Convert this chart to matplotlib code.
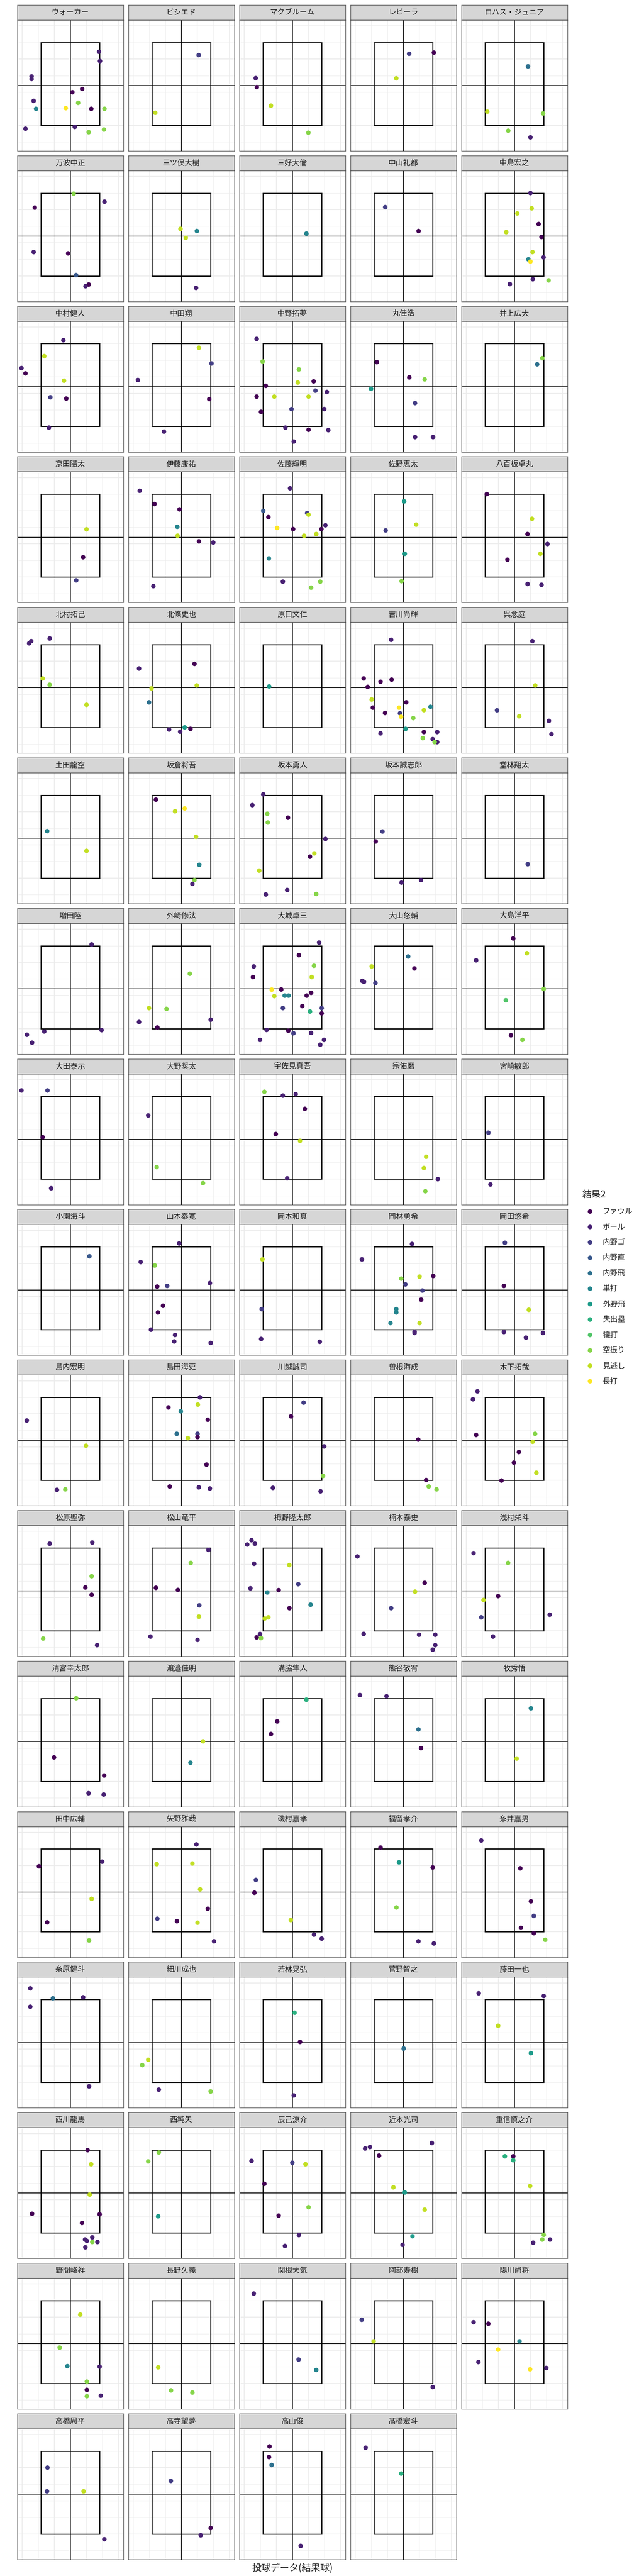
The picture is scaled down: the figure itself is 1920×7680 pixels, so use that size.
import numpy as np
import matplotlib
matplotlib.use("Agg")
from matplotlib import pyplot as plt
from matplotlib.patches import Rectangle

plt.rcParams['font.family'] = ['Noto Sans CJK JP', 'DejaVu Sans']

# result categories (legend order)
results = ['ファウル', 'ボール', '内野ゴ', '内野直', '内野飛', '単打',
           '外野飛', '失出塁', '犠打', '空振り', '見逃し', '長打']

batters = [
    'ウォーカー', 'ビシエド', 'マクブルーム', 'レビーラ', 'ロハス・ジュニア',
    '万波中正', '三ツ俣大樹', '三好大倫', '中山礼都', '中島宏之',
    '中村健人', '中田翔', '中野拓夢', '丸佳浩', '井上広大',
    '京田陽太', '伊藤康祐', '佐藤輝明', '佐野恵太', '八百板卓丸',
    '北村拓己', '北條史也', '原口文仁', '吉川尚輝', '呉念庭',
    '土田龍空', '坂倉将吾', '坂本勇人', '坂本誠志郎', '堂林翔太',
    '増田陸', '外崎修汰', '大城卓三', '大山悠輔', '大島洋平',
    '大田泰示', '大野奨太', '宇佐見真吾', '宗佑磨', '宮崎敏郎',
    '小園海斗', '山本泰寛', '岡本和真', '岡林勇希', '岡田悠希',
    '島内宏明', '島田海吏', '川越誠司', '曽根海成', '木下拓哉',
    '松原聖弥', '松山竜平', '梅野隆太郎', '楠本泰史', '浅村栄斗',
    '清宮幸太郎', '渡邉佳明', '溝脇隼人', '熊谷敬宥', '牧秀悟',
    '田中広輔', '矢野雅哉', '磯村嘉孝', '福留孝介', '糸井嘉男',
    '糸原健斗', '細川成也', '若林晃弘', '菅野智之', '藤田一也',
    '西川龍馬', '西純矢', '辰己涼介', '近本光司', '重信慎之介',
    '野間峻祥', '長野久義', '関根大気', '阿部寿樹', '陽川尚将',
    '高橋周平', '高寺望夢', '高山俊', '髙橋宏斗',
]

# horizontal position of each pitch, one list per batter
pitch_x = [
    [1.79, 1.85, -2.41, -2.41, 0.74, 0.13, -2.28, -2.13, -0.28, 0.49, 1.31, 2.13, -2.79, 0.28, 1.15, 2.10],
    [1.08, -1.62],
    [-2.28, -2.21, -1.33, 1.00],
    [0.36, 1.90, -0.44],
    [0.85, -1.69, 1.79, -0.38, 1.00],
    [0.21, 2.13, -2.21, -2.28, -0.13, 0.36, 1.15, 0.95],
    [-0.05, 0.97, 0.28, 0.92],
    [0.87],
    [-1.13, 0.95],
    [1.00, 1.08, 0.18, 1.51, -0.51, 1.69, 1.13, 1.82, 0.87, 1.00, 1.15, 2.13, -0.28],
    [-0.43, -1.62, -3.04, -2.79, -0.39, -1.24, -0.25, -1.33],
    [1.10, 1.88, -2.70, 1.74, -1.08],
    [-2.22, -1.85, 0.41, 1.33, 0.34, -1.65, 1.44, 2.15, -2.22, -1.12, 1.01, -0.05, 1.99, -1.95, -0.43, 1.01, 2.24, 0.09],
    [-1.65, 0.37, 1.33, -2.01, 0.73, 0.73, 1.85],
    [1.74, 1.42],
    [1.01, 0.80, 0.37],
    [-2.59, -1.67, -0.11, -0.25, -0.23, 1.10, 1.99, -1.74],
    [-0.14, -1.81, -1.49, 0.92, 1.01, 2.06, -0.94, 0.05, 1.81, 1.49, 0.73, -1.46, -0.59, 1.74, 1.17],
    [0.05, 0.80, -1.10, 0.09, -0.11],
    [-1.72, 1.10, 0.82, 2.06, 1.62, -0.43, 0.82, 1.69],
    [-2.56, -2.43, -1.28, -1.72, -1.28, 1.01],
    [-2.63, 0.82, 0.96, -1.85, -2.01, -0.76, -0.07, 0.21, 0.57],
    [-1.46],
    [-0.76, -2.47, -1.42, -0.73, -2.22, -1.97, 0.18, -1.90, -0.27, 1.28, 1.69, -1.14, -0.21, -0.14, 0.62, 0.14, -1.42, 1.28, 2.11, 1.21, 1.83, 2.11, 1.95],
    [1.12, 1.30, -1.08, 0.30, 2.15, 2.31],
    [-1.44, 1.01],
    [-1.58, -0.39, 0.21, 0.92, 1.12, 0.82, 0.69],
    [-1.81, -2.49, -1.56, -1.53, -0.27, 2.06, 1.37, 1.10, -2.06, -0.32, -1.65, 1.49],
    [-1.30, -1.72, -0.11, 1.10],
    [0.82],
    [1.33, 1.95, -1.62, -2.70, -2.38],
    [0.53, -2.01, -0.92, 1.83, -2.63, -1.49],
    [1.67, 0.41, -2.40, 1.35, -2.45, 1.21, -1.28, -0.69, -1.12, -0.48, -0.23, 1.17, 0.89, -0.59, 0.62, 1.83, 1.10, 1.83, -1.60, -0.25, 0.07, 1.17, -2.01, 1.97, 1.74],
    [0.30, -1.97, 0.69, -2.56, -2.45, -1.74],
    [-0.07, 0.78, -2.38, 1.83, -0.53, -0.21, 0.50],
    [-3.04, -1.42, -1.72, -1.19],
    [-2.06, -1.53, 1.35],
    [-1.74, -0.59, 0.21, 0.78, -1.03, 0.48, -0.32],
    [1.42, 1.28, 2.15, 1.37],
    [-1.62, -1.49],
    [1.19],
    [-0.13, -2.53, -1.65, 1.78, -1.50, -0.88, -1.14, -1.45, -1.89, -0.39, -0.44, 1.83],
    [-1.86, -1.91, -1.94, 1.71],
    [0.54, -2.58, 1.86, 1.01, -0.13, 0.13, 1.19, 1.11, -0.44, -0.44, -0.80, 1.01, 0.70, 0.70],
    [-0.59, -0.65, 0.90, -0.65, 0.72, 1.78],
    [-2.71, 0.98, -0.83, -0.31],
    [1.16, -0.80, 1.03, -0.03, 1.65, -0.28, 1.01, 1.01, 0.41, 1.57, -0.72, 1.09, 1.78],
    [0.70, -0.08, 1.99, 1.91, -1.21, 1.76],
    [0.93, 1.42, 1.58, 2.07],
    [-2.30, -2.58, -2.38, 1.29, 1.14, 0.28, -0.03, 1.37, -0.80],
    [-1.28, 1.37, 1.33, 0.94, 1.33, -1.69, 1.67],
    [1.69, 0.59, -1.58, -0.21, 1.12, 1.10, -1.92, 1.01],
    [-2.54, -2.81, -2.33, -2.38, -0.18, 0.37, -2.61, -0.85, -1.56, -0.18, 1.14, -1.49, -1.72, -2.01, -2.22, -1.95],
    [-2.86, 1.33, 0.73, -0.76, -2.47, 0.98, 1.99, 1.99, 1.83],
    [-2.54, -0.39, -1.01, -1.92, -2.06, 2.20, -1.33],
    [0.37, -1.01, 2.11, 1.14, 2.08],
    [1.35, 0.57],
    [0.87, -0.94, -1.33],
    [-2.70, -1.05, 0.94, 1.10],
    [1.03, 0.14],
    [-1.95, 1.99, 1.33, -1.44, 1.17],
    [0.94, -1.53, 0.69, 1.17, 1.65, -1.49, -0.27, 1.01, 2.04],
    [-2.27, -2.36, -0.09, 1.35, 1.83],
    [-1.42, -0.27, 1.83, -0.43, 0.94, 1.90],
    [-2.06, 0.37, 1.03, 1.21, 0.41, 1.21, 1.92],
    [-2.49, -1.08, 0.80, -2.49, 1.17],
    [-2.06, -2.43, -1.40, 1.83],
    [0.14, 0.48, 0.09],
    [0.00],
    [-2.22, 1.83, -1.01, 1.03],
    [1.08, 1.30, 1.21, -2.38, 1.83, 0.73, 1.37, 0.92, 1.03, 1.37, 1.69, 0.94],
    [-1.40, -2.06, -1.44],
    [-2.54, 0.00, 0.82, -1.74, 1.01, -0.85, 0.41, -0.46],
    [-2.38, -2.08, 1.78, -1.51, -0.62, 0.09, 1.33, 0.57, -0.05],
    [-0.59, -0.07, -0.07, 0.98, 1.83, 1.74, 2.22, 1.17],
    [0.62, -0.66, -0.18, 1.83, 1.03, 1.03, 1.03, 1.90],
    [-1.44, -0.64, 0.69],
    [-2.40, 0.39, 1.49],
    [-2.59, -1.85, 1.83],
    [-2.54, -1.62, 0.32, -1.01, -2.24, 0.98, 1.99],
    [-1.42, -1.45, 0.83, 2.12],
    [-0.65, 1.83, 1.21],
    [-1.42, -1.45, -1.29, 0.52],
    [-2.35, -0.13],
]

# height of each pitch, one list per batter
pitch_y = [
    [5.44, 4.88, 3.95, 3.80, 3.20, 3.00, 2.48, 2.00, 2.04, 2.36, 2.00, 2.00, 0.80, 0.91, 0.59, 0.75],
    [5.24, 1.76],
    [3.85, 3.31, 2.19, 0.56],
    [5.32, 5.39, 3.84],
    [4.56, 1.83, 1.72, 0.68, 0.28],
    [5.96, 5.48, 5.12, 2.44, 2.36, 1.05, 0.48, 0.38],
    [3.84, 3.71, 3.30, 0.28],
    [3.56],
    [5.15, 3.71],
    [6.00, 5.08, 4.77, 4.13, 3.64, 3.35, 2.44, 2.12, 2.00, 1.87, 0.80, 0.73, 0.51],
    [6.20, 5.24, 4.52, 4.20, 3.76, 2.76, 2.68, 0.93],
    [5.75, 4.80, 3.80, 2.65, 0.69],
    [6.28, 4.92, 4.44, 3.72, 3.65, 3.45, 3.16, 3.08, 2.80, 2.80, 2.80, 2.05, 2.05, 1.88, 0.93, 0.80, 0.78, 0.09],
    [4.88, 3.96, 3.84, 3.27, 2.41, 0.36, 0.36],
    [5.12, 4.75],
    [3.88, 2.19, 0.80],
    [6.20, 5.40, 5.08, 4.03, 3.49, 3.15, 3.08, 0.45],
    [6.35, 4.99, 4.61, 4.86, 4.76, 4.12, 3.96, 3.89, 3.89, 3.59, 3.49, 2.12, 0.72, 0.72, 0.36],
    [5.56, 4.16, 3.81, 2.40, 0.75],
    [6.00, 4.51, 3.59, 2.99, 2.40, 2.04, 0.58, 0.53],
    [6.08, 6.21, 6.37, 3.96, 3.58, 2.37],
    [4.56, 4.84, 3.54, 3.36, 2.52, 0.88, 0.75, 1.01, 0.92],
    [3.49],
    [6.29, 3.96, 3.76, 3.89, 3.45, 2.69, 2.52, 2.20, 2.20, 2.05, 2.25, 1.88, 1.86, 1.65, 1.57, 0.92, 0.65, 0.73, 0.73, 0.36, 0.30, 0.12, 0.12],
    [6.21, 3.54, 2.04, 1.68, 1.40, 0.60],
    [3.83, 2.64],
    [5.73, 5.03, 5.20, 3.49, 1.80, 0.88, 0.65],
    [6.05, 5.40, 4.88, 4.35, 4.64, 3.36, 2.49, 2.29, 1.45, 0.28, 0.01, 0.04],
    [3.81, 3.21, 0.73, 0.88],
    [1.85],
    [6.08, 0.91, 0.83, 0.63, 0.15],
    [4.31, 2.24, 2.19, 1.54, 1.40, 1.07],
    [6.19, 5.43, 4.75, 4.79, 4.11, 4.11, 3.35, 3.36, 2.96, 2.99, 2.99, 3.16, 2.99, 2.24, 2.36, 2.24, 2.03, 1.92, 0.92, 0.87, 0.72, 0.74, 0.32, 0.32, 0.03],
    [5.35, 4.75, 4.63, 3.88, 3.82, 3.75],
    [6.44, 5.55, 5.12, 3.39, 2.71, 0.60, 0.32],
    [6.35, 6.35, 3.53, 0.45],
    [4.84, 1.73, 0.76],
    [6.27, 6.04, 6.13, 5.24, 3.72, 3.31, 1.05],
    [2.35, 1.67, 1.00, 0.27],
    [3.80, 0.68],
    [5.44],
    [6.20, 5.08, 4.87, 3.81, 3.60, 3.64, 2.44, 2.04, 1.00, 0.68, 0.29, 0.20],
    [5.24, 2.24, 0.44, 0.27],
    [6.17, 5.24, 4.24, 4.20, 4.08, 3.73, 3.36, 2.81, 2.24, 2.04, 1.40, 1.40, 0.88, 0.80],
    [6.24, 3.64, 2.20, 0.86, 0.52, 0.80],
    [4.60, 3.08, 0.42, 0.45],
    [6.00, 5.39, 5.56, 5.16, 4.65, 3.80, 3.80, 3.60, 3.54, 1.94, 0.62, 0.57, 0.50],
    [5.68, 4.85, 3.04, 1.26, 0.54, 0.33],
    [3.45, 1.01, 0.62, 0.45],
    [6.36, 5.88, 3.73, 3.80, 3.32, 2.70, 2.06, 1.45, 0.98],
    [6.25, 6.32, 4.29, 3.61, 3.17, 0.53, 0.13],
    [5.88, 5.09, 3.59, 3.46, 2.53, 1.85, 0.65, 0.45],
    [6.46, 6.20, 6.25, 5.04, 4.96, 3.81, 3.56, 3.45, 3.31, 2.36, 2.57, 1.81, 1.74, 0.80, 0.60, 0.56],
    [5.48, 3.89, 3.36, 2.36, 0.81, 0.76, 0.76, 0.13, -0.14],
    [5.68, 5.09, 3.09, 2.85, 1.81, 1.97, 0.65],
    [6.01, 2.44, 1.35, 0.28, 0.20],
    [3.41, 2.12],
    [5.92, 4.61, 3.85],
    [6.20, 6.13, 4.13, 3.00],
    [5.40, 2.37],
    [4.95, 5.23, 2.99, 1.57, 0.48],
    [6.27, 5.08, 5.12, 3.56, 2.39, 1.79, 1.64, 1.55, 0.43],
    [4.13, 3.36, 1.71, 0.83, 0.59],
    [6.08, 5.19, 4.88, 2.47, 0.43, 0.30],
    [6.51, 4.83, 2.84, 1.96, 1.24, 0.92, 0.52],
    [6.67, 6.07, 6.13, 5.56, 0.76],
    [2.36, 2.04, 0.56, 0.45],
    [5.20, 3.44, 0.21],
    [3.04],
    [6.37, 6.21, 4.41, 2.76],
    [5.99, 5.14, 3.31, 2.15, 2.12, 1.60, 0.73, 0.60, 0.52, 0.45, 0.45, 0.13],
    [5.85, 5.31, 2.00],
    [5.34, 5.23, 5.14, 3.96, 2.55, 2.04, 0.87, 0.21],
    [6.09, 6.18, 6.42, 5.66, 3.75, 3.44, 2.40, 0.80, 0.28],
    [5.62, 5.62, 5.38, 3.83, 0.88, 0.60, 0.60, 0.41],
    [5.15, 3.16, 2.04, 2.01, 1.11, 0.61, 0.23, 0.26],
    [1.97, 0.58, 0.45],
    [6.42, 2.44, 1.81],
    [4.84, 3.54, 0.78],
    [4.69, 4.60, 3.54, 3.04, 2.29, 1.85, 1.93],
    [5.00, 3.57, 3.57, 0.68],
    [4.20, 1.36, 0.92],
    [6.28, 5.64, 5.16, 0.28],
    [6.20, 4.64],
]

# result of each pitch (index into results), one list per batter
pitch_res = [
    [1, 1, 1, 1, 0, 0, 1, 5, 11, 9, 0, 9, 1, 1, 9, 9],
    [2, 10],
    [1, 0, 10, 9],
    [2, 0, 10],
    [4, 10, 9, 9, 1],
    [9, 1, 0, 1, 0, 3, 0, 1],
    [10, 5, 10, 1],
    [5],
    [2, 0],
    [1, 10, 10, 0, 10, 0, 10, 1, 5, 11, 1, 9, 1],
    [1, 10, 1, 0, 10, 2, 0, 1],
    [10, 2, 1, 0, 1],
    [1, 9, 9, 0, 10, 0, 2, 1, 0, 10, 10, 2, 1, 0, 1, 0, 1, 1],
    [0, 0, 9, 6, 2, 1, 1],
    [9, 4],
    [10, 0, 2],
    [1, 0, 0, 5, 10, 0, 1, 1],
    [1, 3, 0, 2, 10, 1, 11, 0, 0, 10, 10, 5, 1, 9, 9],
    [6, 10, 2, 6, 9],
    [0, 10, 0, 1, 10, 0, 1, 1],
    [1, 1, 1, 10, 9, 10],
    [1, 0, 10, 10, 4, 1, 1, 6, 0],
    [6],
    [1, 0, 0, 0, 0, 10, 0, 0, 11, 10, 5, 0, 2, 11, 9, 6, 1, 0, 1, 9, 1, 1, 9],
    [1, 10, 2, 10, 1, 1],
    [5, 10],
    [0, 10, 11, 10, 5, 9, 1],
    [1, 1, 9, 9, 0, 1, 10, 0, 10, 1, 1, 9],
    [2, 0, 1, 1],
    [2],
    [1, 1, 1, 1, 1],
    [9, 10, 9, 1, 1, 0],
    [1, 0, 1, 9, 0, 10, 11, 0, 10, 5, 5, 0, 0, 2, 0, 2, 7, 0, 1, 0, 2, 1, 1, 1, 1],
    [4, 10, 0, 1, 1, 2],
    [0, 10, 1, 9, 8, 0, 9],
    [1, 2, 0, 1],
    [1, 9, 9],
    [9, 1, 1, 0, 0, 10, 1],
    [10, 10, 1, 9],
    [2, 1],
    [3],
    [1, 1, 9, 1, 0, 2, 0, 0, 1, 1, 1, 1],
    [10, 2, 1, 1],
    [1, 1, 0, 10, 9, 2, 2, 0, 5, 5, 5, 10, 1, 1],
    [2, 0, 10, 1, 1, 1],
    [1, 10, 1, 9],
    [1, 0, 10, 5, 0, 4, 2, 0, 10, 0, 0, 1, 1],
    [2, 0, 1, 9, 1, 1],
    [0, 0, 9, 9],
    [1, 1, 0, 9, 10, 0, 0, 10, 0],
    [1, 1, 9, 0, 0, 9, 1],
    [1, 9, 0, 0, 2, 10, 1, 1],
    [1, 1, 1, 1, 10, 2, 1, 0, 5, 0, 5, 10, 10, 1, 0, 9],
    [1, 0, 10, 2, 1, 1, 1, 1, 1],
    [1, 9, 0, 10, 2, 1, 1],
    [9, 0, 0, 1, 1],
    [10, 5],
    [7, 0, 0],
    [1, 1, 4, 0],
    [5, 10],
    [0, 1, 10, 0, 9],
    [1, 10, 10, 10, 0, 2, 0, 10, 1],
    [2, 0, 10, 1, 1],
    [0, 6, 0, 9, 1, 1],
    [1, 0, 0, 2, 0, 0, 9],
    [1, 4, 1, 1, 1],
    [10, 9, 1, 9],
    [7, 0, 1],
    [4],
    [1, 1, 10, 6],
    [0, 10, 10, 0, 0, 0, 1, 1, 1, 9, 1, 1],
    [9, 9, 6],
    [1, 2, 10, 0, 9, 0, 1, 1],
    [1, 1, 1, 0, 10, 6, 10, 6, 1],
    [7, 0, 7, 10, 9, 9, 1, 1],
    [10, 9, 5, 1, 9, 0, 9, 1],
    [10, 9, 9],
    [1, 2, 5],
    [2, 10, 1],
    [1, 0, 5, 11, 1, 11, 1],
    [2, 2, 10, 1],
    [2, 0, 1],
    [0, 0, 4, 1],
    [1, 7],
]

# strike zone and reference lines
zone_x = (-1.82, 1.82)
zone_y = (1.0, 6.0)
hline_y = 3.4

W, H = 1920, 7680
ncol = 5
colors = plt.cm.viridis(np.linspace(0, 1, len(results)))


def px_axes(fig, left, top, width, height):
    # add axes using pixel coordinates measured from the top-left corner
    return fig.add_axes([left / W, 1 - (top + height) / H, width / W, height / H])


def draw_panel(fig, idx):
    r, c = divmod(idx, ncol)
    left = 51.5 + 331 * c
    strip_top = 15 + 448.8 * r
    pw, sh, ph = 316, 45, 390

    # facet strip
    sax = px_axes(fig, left, strip_top, pw, sh)
    sax.set_facecolor('#D6D6D6')
    sax.set_xticks([])
    sax.set_yticks([])
    for s in sax.spines.values():
        s.set_color('#333333')
        s.set_linewidth(1.0)
    sax.text(0.5, 0.5, batters[idx], ha='center', va='center',
             fontsize=16, color='#1A1A1A', transform=sax.transAxes)

    ax = px_axes(fig, left, strip_top + sh, pw, ph)
    ax.set_xlim(-3.3, 3.3)
    ax.set_ylim(-0.54, 7.35)
    ax.set_xticks([-3, -1, 1, 3])
    ax.set_xticks([-2, 0, 2], minor=True)
    ax.set_yticks([1, 3, 5, 7])
    ax.set_yticks([0, 2, 4, 6], minor=True)
    ax.tick_params(which='both', length=0, labelbottom=False, labelleft=False)
    ax.grid(which='major', color='#EBEBEB', linewidth=1.6)
    ax.grid(which='minor', color='#EBEBEB', linewidth=0.9)
    ax.set_axisbelow(True)
    for s in ax.spines.values():
        s.set_color('#333333')
        s.set_linewidth(1.0)

    ax.axvline(0, color='black', linewidth=1.4, zorder=2)
    ax.axhline(hline_y, color='black', linewidth=1.6, zorder=2)
    ax.add_patch(Rectangle((zone_x[0], zone_y[0]), zone_x[1] - zone_x[0],
                           zone_y[1] - zone_y[0], fill=False,
                           edgecolor='black', linewidth=2.2, zorder=2))

    xs = np.array(pitch_x[idx])
    ys = np.array(pitch_y[idx])
    rs = np.array(pitch_res[idx])
    ax.scatter(xs, ys, c=colors[rs], s=95, linewidths=0, zorder=3)


def draw_legend(fig):
    lax = px_axes(fig, 1700, 3520, 220, 640)
    lax.set_xlim(1700, 1920)
    lax.set_ylim(4160, 3520)
    lax.axis('off')
    lax.text(1735, 3562, '結果2', ha='left', va='center', fontsize=20, color='#1A1A1A')
    ys = 3612 + 46 * np.arange(len(results))
    lax.scatter(np.full(len(results), 1759), ys, c=colors, s=95, linewidths=0)
    for lab, y in zip(results, ys):
        lax.text(1797, y, lab, ha='left', va='center', fontsize=16, color='#1A1A1A')


def main():
    fig = plt.figure(figsize=(W / 100, H / 100), dpi=100)
    fig.patch.set_facecolor('white')
    for i in range(len(batters)):
        draw_panel(fig, i)
    draw_legend(fig)
    fig.text(871 / W, 1 - 7657 / H, '投球データ(結果球)', ha='center', va='center',
             fontsize=20, color='#1A1A1A')
    fig.savefig('out.png', dpi=100)


if __name__ == "__main__":
    main()
